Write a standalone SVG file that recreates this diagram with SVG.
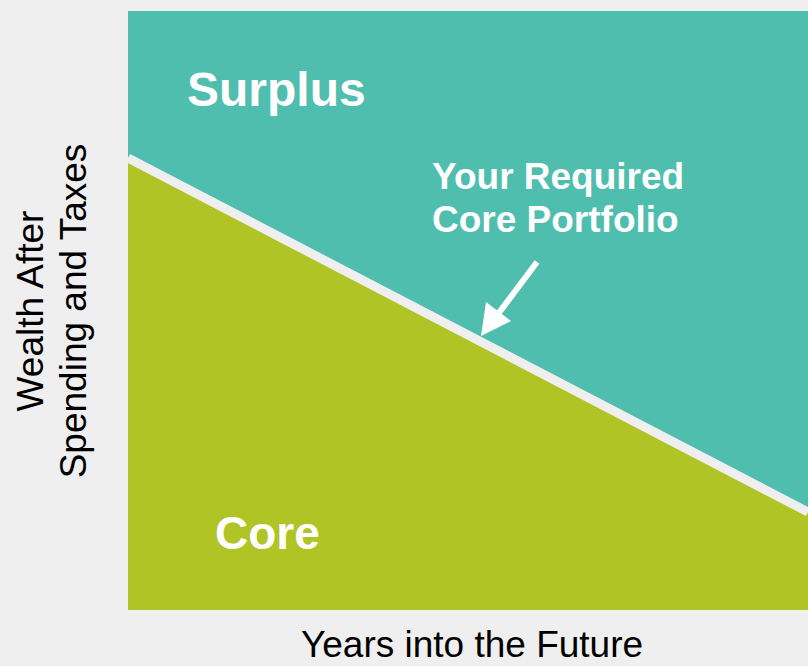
<svg xmlns="http://www.w3.org/2000/svg" width="808" height="666" viewBox="0 0 808 666">
  <style>
    .zone-label { font-family: "Liberation Sans", Arial, sans-serif; font-weight: bold; fill: #ffffff; }
    .axis-label { font-family: "Liberation Sans", Arial, sans-serif; font-size: 37px; fill: #000000; }
  </style>

  <!-- page background -->
  <rect x="0" y="0" width="808" height="666" fill="#efefef"/>

  <!-- surplus zone (upper) -->
  <g id="surplus">
    <rect x="128" y="11" width="680" height="599" fill="#4fbeae"/>
    <text class="zone-label" x="187" y="106" font-size="48">Surplus</text>
  </g>

  <!-- core zone (lower) -->
  <g id="core">
    <polygon points="128,158 808,512 808,610 128,610" fill="#b1c426"/>
    <text class="zone-label" x="215" y="549" font-size="46">Core</text>
  </g>

  <!-- required core portfolio boundary -->
  <g id="boundary">
    <line x1="128" y1="158" x2="808" y2="512" stroke="#efefef" stroke-width="9"/>
  </g>

  <g id="callout">
    <text class="zone-label" x="432" y="189" font-size="37">Your Required</text>
    <text class="zone-label" x="432" y="232" font-size="37">Core Portfolio</text>
  </g>

  <!-- connectors -->
  <g id="connectors">
    <line x1="537" y1="262" x2="495" y2="318" stroke="#ffffff" stroke-width="6"/>
    <polygon points="481,336 486,302 511,321" fill="#ffffff"/>
  </g>

  <!-- axis titles -->
  <g id="axis-x">
    <text class="axis-label" x="472" y="657" text-anchor="middle">Years into the Future</text>
  </g>
  <g id="axis-y">
    <text class="axis-label" transform="translate(43,311) rotate(-90)" text-anchor="middle">Wealth After</text>
    <text class="axis-label" transform="translate(86,311) rotate(-90)" text-anchor="middle">Spending and Taxes</text>
  </g>
</svg>
